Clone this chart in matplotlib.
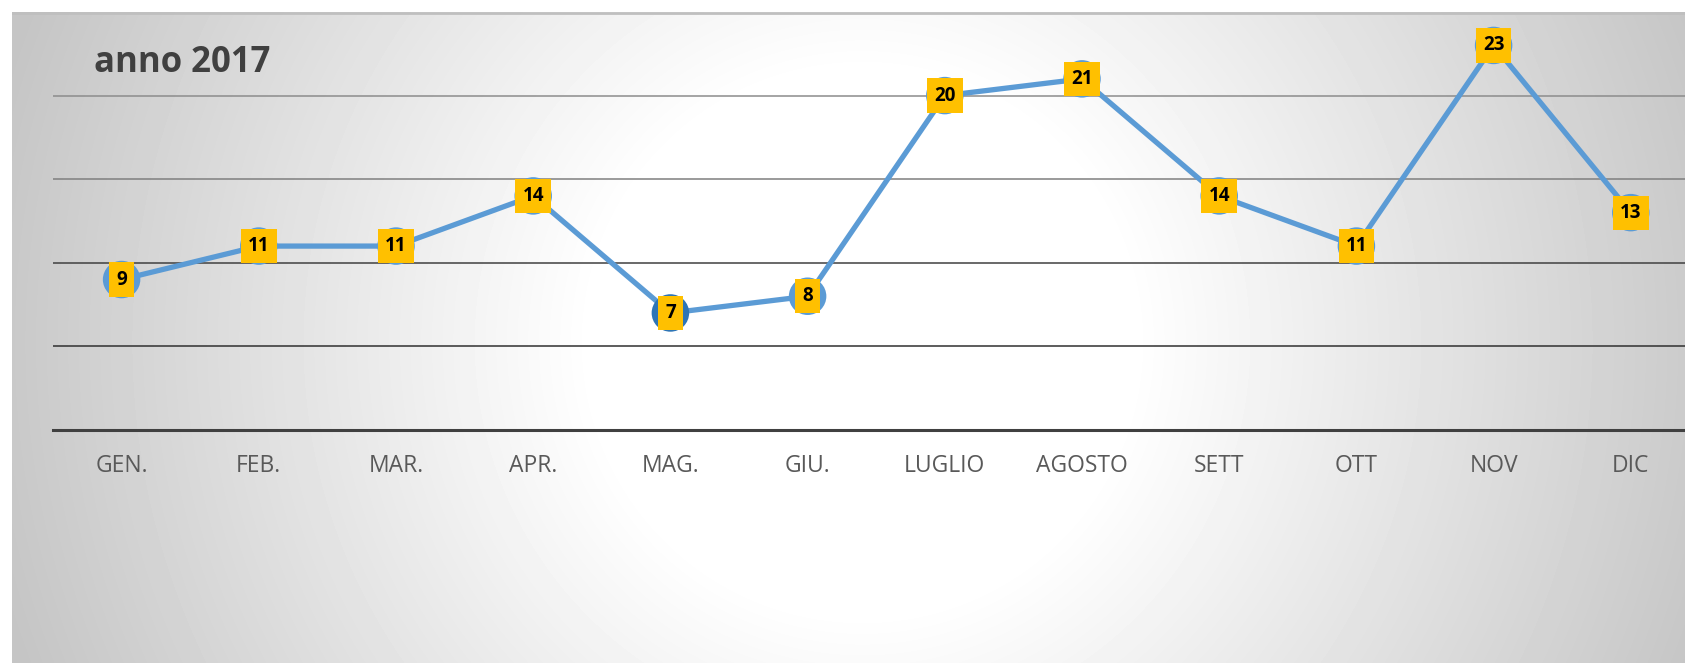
import matplotlib

matplotlib.use("Agg")
import matplotlib.pyplot as plt
import numpy as np

MONTHS = ["GEN.", "FEB.", "MAR.", "APR.", "MAG.", "GIU.", "LUGLIO", "AGOSTO", "SETT", "OTT", "NOV", "DIC"]
VALUES = [9, 11, 11, 14, 7, 8, 20, 21, 14, 11, 23, 13]
GRID_LEVELS = [5, 10, 15, 20]
GRID_COLORS = ["#303030", "#404040", "#7f7f7f", "#8c8c8c"]

LINE_COLOR = "#5b9bd5"
LOW_MARKER = "#2e75b6"
LABEL_BG = "#ffc000"

W, H, DPI = 1685, 663, 100
plt.rcParams["font.family"] = ["Open Sans", "DejaVu Sans"]

fig = plt.figure(figsize=(W / DPI, H / DPI), dpi=DPI)
fig.patch.set_facecolor("white")

# radial grey background behind the chart
bg_left, bg_top = 12, 12
bg = fig.add_axes([bg_left / W, 0, 1 - bg_left / W, (H - bg_top) / H])
bw, bh = W - bg_left, H - bg_top
yy, xx = np.mgrid[0:bh, 0:bw]
cx, cy, radius = 850, 330, 900
d = np.hypot(xx - cx, yy - cy) / radius
shade = np.clip((d - 0.3) / 0.7, 0, 1)
grey = 1.0 - shade * (1.0 - 0.77)
bg.imshow(grey, cmap="gray", vmin=0, vmax=1, aspect="auto", interpolation="bilinear")
bg.set_axis_off()
bg.axhline(0, color="#bfbfbf", linewidth=2)

# main plot area
ax_left, ax_bottom_px, ax_top_px = 53, 430, 12
band = 137.2
ax = fig.add_axes([
    ax_left / W,
    (H - ax_bottom_px) / H,
    band * len(MONTHS) / W,
    (ax_bottom_px - ax_top_px) / H,
])
ax.patch.set_alpha(0)
ax.set_xlim(-0.5, len(MONTHS) - 0.5)
ax.set_ylim(0, 25)
for s in ax.spines.values():
    s.set_visible(False)
ax.set_xticks([])
ax.set_yticks([])

for level, col in zip(GRID_LEVELS, GRID_COLORS):
    ax.axhline(level, color=col, linewidth=1.1, zorder=1)
ax.axhline(0, color="#404040", linewidth=2.2, zorder=1, clip_on=False)

x = np.arange(len(MONTHS))
ax.plot(x, VALUES, color=LINE_COLOR, linewidth=3.8, zorder=2, solid_capstyle="round")
marker_colors = [LOW_MARKER if v == min(VALUES) else LINE_COLOR for v in VALUES]
ax.scatter(x, VALUES, s=27 ** 2, c=marker_colors, zorder=3, linewidths=0, clip_on=False)

for xi, v in zip(x, VALUES):
    ax.text(
        xi, v, str(v),
        ha="center", va="center",
        fontsize=13.5, fontweight="bold", color="black",
        bbox=dict(boxstyle="square,pad=0.38", facecolor=LABEL_BG, edgecolor="none"),
        zorder=4, clip_on=False,
    )

for xi, name in zip(x, MONTHS):
    ax.text(
        xi, -(472.5 - ax_bottom_px) / (ax_bottom_px - ax_top_px), name,
        transform=ax.get_xaxis_transform(),
        ha="center", va="baseline", fontsize=16.5, color="#595959",
    )

fig.text(94 / W, 1 - 72 / H, "anno 2017", ha="left", va="baseline",
         fontsize=25, fontweight="bold", color="#404040")

fig.savefig("out.png", dpi=DPI)
